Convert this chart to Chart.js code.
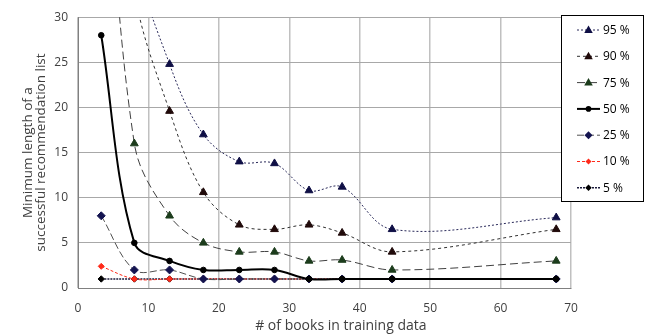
<!DOCTYPE html>
<html lang="en">
<head>
    <meta charset="UTF-8">
    <title>Minimum length of a successful recommendation list</title>
    <script src="https://cdn.jsdelivr.net/npm/chart.js"></script>
    <style>
        body {
            margin: 0;
            background-color: #ffffff;
        }
        .chart-container {
            position: relative;
            width: 654px;
            height: 335px;
        }
    </style>
</head>
<body>
    <div class="chart-container">
        <canvas id="chartCanvas"></canvas>
    </div>

    <script>
        // values (first points of the upper curves lie above the axis)
        const books = [3.3, 8, 13, 17.8, 22.9, 27.9, 32.8, 37.5, 44.6, 67.9];
        const p95 = [90, 38, 24.8, 17, 14, 13.8, 10.8, 11.2, 6.5, 7.8];
        const p90 = [70, 33, 19.6, 10.6, 7, 6.5, 7, 6.1, 4, 6.5];
        const p75 = [58, 16, 8, 5, 4, 4, 3, 3.1, 2, 3];
        const p50 = [28, 5, 3, 2, 2, 2, 1, 1, 1, 1];
        const p25 = [8, 2, 2, 1, 1, 1, 1, 1, 1, 1];
        const p10 = [2.4, 1, 1, 1, 1, 1, 1, 1, 1, 1];
        const p5 = [1, 1, 1, 1, 1, 1, 1, 1, 1, 1];
        const seriesLabels = ['95 %', '90 %', '75 %', '50 %', '25 %', '10 %', '5 %'];
        const xTicks = [0, 10, 20, 30, 40, 50, 60, 70];
        const yTicks = [0, 5, 10, 15, 20, 25, 30];

        const fontFamily = '"Open Sans", Lato, sans-serif';

        function pts(values) {
            return values.map((v, i) => ({ x: books[i], y: v }));
        }

        const styles = [
            { data: p95, line: '#2a2a5a', dash: [2, 2], width: 1, point: 'triangle', pointColor: '#0f0f45', radius: 4.5 },
            { data: p90, line: '#303030', dash: [3, 3], width: 1, point: 'triangle', pointColor: '#200a0a', radius: 4.5 },
            { data: p75, line: '#404040', dash: [8, 4], width: 1, point: 'triangle', pointColor: '#1c3c1c', radius: 4.5 },
            { data: p50, line: '#000000', dash: [], width: 2, point: 'circle', pointColor: '#000000', radius: 2.8 },
            { data: p25, line: '#505050', dash: [7, 3], width: 1, point: 'rectRot', pointColor: '#141450', radius: 4 },
            { data: p10, line: '#ff2a1a', dash: [3, 2], width: 1, point: 'rectRot', pointColor: '#ff2a1a', radius: 3 },
            { data: p5, line: '#1a1a3a', dash: [2, 1], width: 1.5, point: 'rectRot', pointColor: '#000000', radius: 3.2 }
        ];

        const datasets = styles.map((s, i) => ({
            label: seriesLabels[i],
            data: pts(s.data),
            showLine: true,
            borderColor: s.line,
            borderWidth: s.width,
            borderDash: s.dash,
            tension: 0.35,
            pointStyle: s.point,
            pointRadius: s.radius,
            pointBackgroundColor: s.pointColor,
            pointBorderColor: s.pointColor,
            pointBorderWidth: 1,
            order: i === 3 ? 0 : 1
        }));

        function drawMarker(ctx, style, x, y, r, color) {
            ctx.save();
            ctx.fillStyle = color;
            ctx.beginPath();
            if (style === 'triangle') {
                ctx.moveTo(x, y - r);
                ctx.lineTo(x + r * 0.95, y + r * 0.65);
                ctx.lineTo(x - r * 0.95, y + r * 0.65);
            } else if (style === 'rectRot') {
                ctx.moveTo(x, y - r);
                ctx.lineTo(x + r, y);
                ctx.lineTo(x, y + r);
                ctx.lineTo(x - r, y);
            } else {
                ctx.arc(x, y, r, 0, Math.PI * 2);
            }
            ctx.closePath();
            ctx.fill();
            ctx.restore();
        }

        const boxLegend = {
            id: 'boxLegend',
            afterDraw(chart) {
                const ctx = chart.ctx;
                const left = 561, top = 15, w = 82, h = 186;
                ctx.save();
                ctx.fillStyle = '#ffffff';
                ctx.fillRect(left, top, w, h);
                ctx.strokeStyle = '#000000';
                ctx.lineWidth = 1;
                ctx.strokeRect(left + 0.5, top + 0.5, w, h);
                styles.forEach((s, i) => {
                    const y = 30 + i * 26.3;
                    ctx.strokeStyle = s.line;
                    ctx.lineWidth = s.width;
                    ctx.setLineDash(s.dash);
                    ctx.beginPath();
                    ctx.moveTo(577, y);
                    ctx.lineTo(600, y);
                    ctx.stroke();
                    ctx.setLineDash([]);
                    drawMarker(ctx, s.point, 588.5, y, s.radius, s.pointColor);
                    ctx.fillStyle = '#000000';
                    ctx.font = '12px ' + fontFamily;
                    ctx.textBaseline = 'middle';
                    ctx.textAlign = 'left';
                    ctx.fillText(seriesLabels[i], 603, y + 0.5);
                });
                ctx.restore();
            }
        };

        const chartInstance = new Chart(document.getElementById('chartCanvas'), {
            type: 'scatter',
            data: { datasets: datasets },
            options: {
                responsive: true,
                maintainAspectRatio: false,
                animation: false,
                layout: { padding: { top: 13, right: 83, left: 0, bottom: 0 } },
                plugins: {
                    legend: { display: false },
                    tooltip: { enabled: false }
                },
                scales: {
                    x: {
                        type: 'linear',
                        min: 0,
                        max: 70,
                        afterBuildTicks: (axis) => { axis.ticks = xTicks.map(v => ({ value: v })); },
                        afterFit: (axis) => { axis.height = 47; },
                        grid: { color: '#c0c0c0', lineWidth: 1.5, drawTicks: false },
                        border: { color: '#808080', width: 1 },
                        ticks: { color: '#404040', font: { family: fontFamily, size: 12 }, padding: 13 },
                        title: {
                            display: true,
                            // leading spaces nudge the title right, as in the original
                            text: '         # of books in training data',
                            color: '#404040',
                            font: { family: fontFamily, size: 14 },
                            padding: { top: 4, bottom: 1 }
                        }
                    },
                    y: {
                        min: 0,
                        max: 30,
                        afterBuildTicks: (axis) => { axis.ticks = yTicks.map(v => ({ value: v })); },
                        afterFit: (axis) => { axis.width = 78; },
                        grid: { color: '#a8a8a8', lineWidth: 1, drawTicks: false },
                        border: { color: '#808080', width: 1 },
                        ticks: { color: '#404040', font: { family: fontFamily, size: 12 }, padding: 10 },
                        title: {
                            display: true,
                            text: ['Minimum length of a', 'successful recommendation list'],
                            color: '#404040',
                            font: { family: fontFamily, size: 13.5, lineHeight: 0.95 },
                            padding: { top: 22, bottom: 0 }
                        }
                    }
                }
            },
            plugins: [boxLegend]
        });
    </script>
</body>
</html>
